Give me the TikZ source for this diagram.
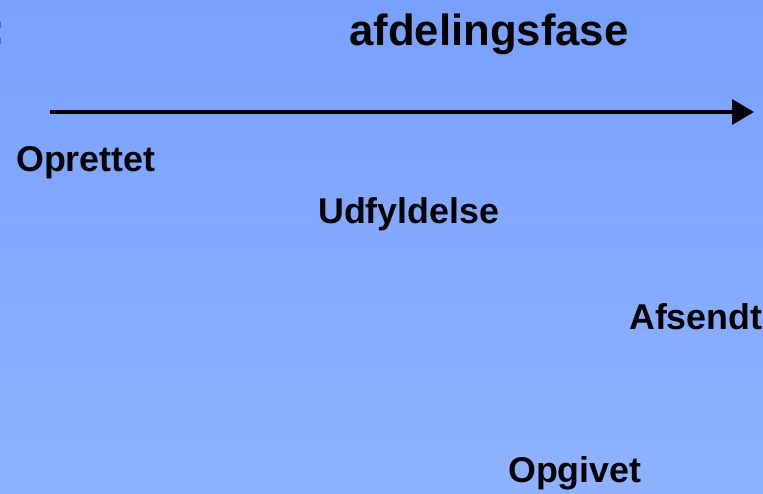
\documentclass[tikz,border=0pt]{standalone}
\usepackage{fontspec}
\setmainfont{Liberation Sans}
\usetikzlibrary{arrows.meta}
\definecolor{bgtop}{RGB}{120,161,253}
\definecolor{bgbot}{RGB}{143,178,255}
\begin{document}
\begin{tikzpicture}[x=1pt,y=-1pt,
  lbl/.style={anchor=base west,inner sep=0pt,font=\bfseries\fontsize{35.8}{40}\selectfont},
  ttl/.style={anchor=base west,inner sep=0pt,font=\bfseries\fontsize{43.7}{48}\selectfont}]
\shade[top color=bgtop,bottom color=bgbot] (0,0) rectangle (763,493);
\useasboundingbox (0,0) rectangle (763,493);
\node[ttl] (frag) at (-9.5,44) {:};
\node[ttl] (title) at (349,45) {afdelingsfase};
\coordinate (start) at (50,112);
\coordinate (end) at (754,112);
\draw[line width=3.5pt,-{Triangle[length=22pt,width=25pt]}] (start) -- (end);
\node[lbl] (opr) at (16,171) {Oprettet};
\node[lbl] (udf) at (318,223) {Udfyldelse};
\node[lbl] (afs) at (629,329) {Afsendt};
\node[lbl] (opg) at (508,482) {Opgivet};
\end{tikzpicture}
\end{document}
